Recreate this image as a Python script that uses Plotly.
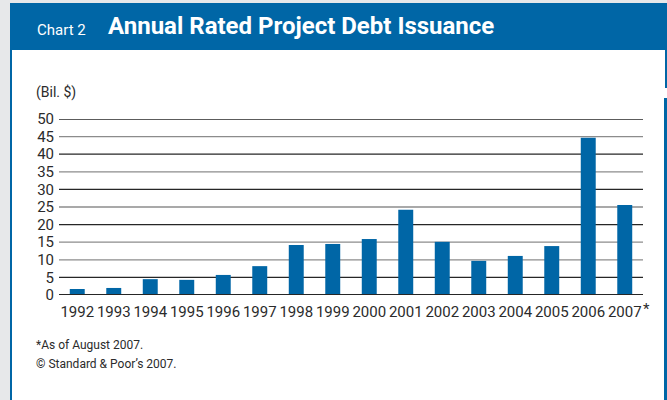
import plotly.graph_objects as go

# Annual rated project debt issuance, billions of US dollars
years = ["1992", "1993", "1994", "1995", "1996", "1997", "1998", "1999",
         "2000", "2001", "2002", "2003", "2004", "2005", "2006", "2007"]
issuance = [1.7, 2.0, 4.5, 4.3, 5.7, 8.2, 14.2, 14.5,
            15.9, 24.2, 15.1, 9.7, 11.1, 13.9, 44.7, 25.6]
y_ticks = [0, 5, 10, 15, 20, 25, 30, 35, 40, 45, 50]

W, H = 667, 400
L, R, T, B = 59, 24, 119, 105
PW, PH = W - L - R, H - T - B

BLUE = "#0066a6"
FONT = "Roboto, Liberation Sans, sans-serif"
TXT = "#2b2b2b"


def px(x):
    return (x - L) / PW


def py(y):
    return (H - B - y) / PH


fig = go.Figure()
fig.add_trace(go.Bar(
    x=years, y=issuance, marker_color=BLUE, marker_line_width=0,
    hoverinfo="x+y",
))

shapes = []
# outer frame: grey page edge, blue header band, blue side rules
shapes.append(dict(type="rect", xref="paper", yref="paper", x0=px(0), x1=px(10),
                   y0=py(0), y1=py(H), fillcolor="#e7e8ea", line_width=0, layer="below"))
shapes.append(dict(type="rect", xref="paper", yref="paper", x0=px(0), x1=px(W),
                   y0=py(0), y1=py(3), fillcolor="#e7e8ea", line_width=0, layer="below"))
shapes.append(dict(type="rect", xref="paper", yref="paper", x0=px(10), x1=px(W),
                   y0=py(3), y1=py(50), fillcolor=BLUE, line_width=0, layer="below"))
shapes.append(dict(type="rect", xref="paper", yref="paper", x0=px(10), x1=px(12),
                   y0=py(50), y1=py(H), fillcolor=BLUE, line_width=0, layer="below"))
shapes.append(dict(type="rect", xref="paper", yref="paper", x0=px(665), x1=px(W),
                   y0=py(50), y1=py(88), fillcolor=BLUE, line_width=0, layer="below"))
shapes.append(dict(type="rect", xref="paper", yref="paper", x0=px(664), x1=px(W),
                   y0=py(98), y1=py(H), fillcolor=BLUE, line_width=0, layer="below"))

# horizontal rules, alternating dark and light
rule_colors = {5: "#262626", 10: "#8c8c8c", 15: "#8c8c8c", 20: "#262626", 25: "#8c8c8c",
               30: "#262626", 35: "#8c8c8c", 40: "#262626", 45: "#8c8c8c", 50: "#262626"}
for v in y_ticks[1:]:
    shapes.append(dict(type="line", xref="paper", yref="y", x0=0, x1=1, y0=v, y1=v,
                       line=dict(color=rule_colors[v], width=1.3), layer="below"))
# baseline
shapes.append(dict(type="line", xref="paper", yref="y", x0=0, x1=1, y0=0, y1=0,
                   line=dict(color="#262626", width=2.2), layer="above"))

annotations = [
    dict(text="Chart 2", x=px(35), y=py(29.5), xref="paper", yref="paper",
         xanchor="left", yanchor="middle", showarrow=False,
         font=dict(family=FONT, size=15, color="white")),
    dict(text="<b>Annual Rated Project Debt Issuance</b>", x=px(106), y=py(26),
         xref="paper", yref="paper", xanchor="left", yanchor="middle", showarrow=False,
         font=dict(family=FONT, size=24, color="white")),
    dict(text="(Bil. $)", x=px(34), y=py(92), xref="paper", yref="paper",
         xanchor="left", yanchor="middle", showarrow=False,
         font=dict(family=FONT, size=14, color=TXT)),
    dict(text="*", x=len(years) - 1, y=py(309), xref="x", yref="paper", xshift=16,
         xanchor="left", yanchor="middle", showarrow=False,
         font=dict(family=FONT, size=15, color=TXT)),
    dict(text="*As of August 2007.", x=px(34), y=py(345), xref="paper", yref="paper",
         xanchor="left", yanchor="middle", showarrow=False,
         font=dict(family=FONT, size=12, color=TXT)),
    dict(text="© Standard & Poor’s 2007.", x=px(34), y=py(364), xref="paper", yref="paper",
         xanchor="left", yanchor="middle", showarrow=False,
         font=dict(family=FONT, size=12, color=TXT)),
]

fig.update_layout(
    width=W, height=H,
    margin=dict(l=L, r=R, t=T, b=B, autoexpand=False),
    paper_bgcolor="white", plot_bgcolor="rgba(0,0,0,0)",
    bargap=0.59, showlegend=False,
    shapes=shapes, annotations=annotations,
    font=dict(family=FONT, color=TXT),
)
fig.update_xaxes(
    type="category", range=[-0.5, len(years) - 0.5], autorange=False,
    showgrid=False, zeroline=False, showline=False, ticks="",
    tickfont=dict(family=FONT, size=15, color=TXT), ticklabelstandoff=6,
    tickangle=0,
)
fig.update_yaxes(
    range=[0, 50], tickvals=y_ticks, showgrid=False, zeroline=False, showline=False,
    ticks="", tickfont=dict(family=FONT, size=15, color=TXT), ticklabelstandoff=4,
)

fig.write_html("out.html")
